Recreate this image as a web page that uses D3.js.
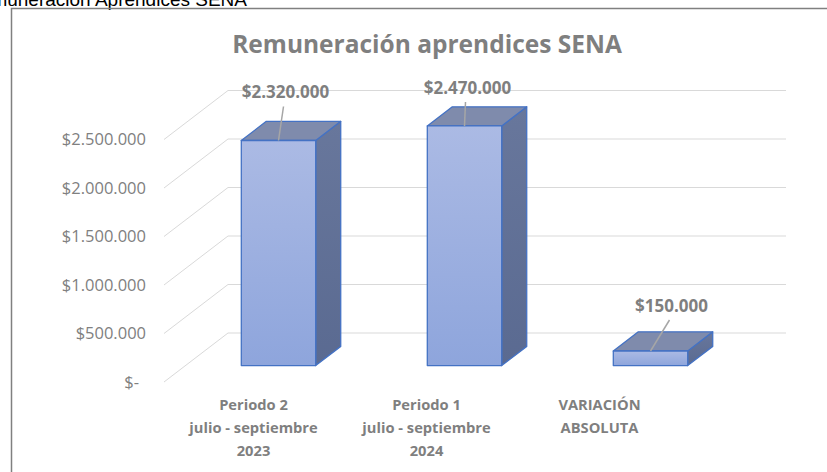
<!DOCTYPE html>
<html>
<head>
<meta charset="utf-8">
<script src="https://cdn.jsdelivr.net/npm/d3@7"></script>
<style>
  body { margin: 0; background: #fff; }
  text { font-family: "Open Sans", Lato, sans-serif; }
</style>
</head>
<body>
<div id="chart"></div>
<script>
// chart data
var categories = ["Periodo 2\njulio - septiembre\n2023", "Periodo 1\njulio - septiembre\n2024", "VARIACIÓN\nABSOLUTA"];
var values = [2320000, 2470000, 150000];
var tickValues = [0, 500000, 1000000, 1500000, 2000000, 2500000];
var title = "Remuneración aprendices SENA";
var pageTitle = "Remuneración Aprendices SENA";

// label nudges (manual placement like in the original workbook)
var labelNudge = [[7, -42], [3, -32], [21, -39]];

var W = 827, H = 472;

var svg = d3.select("#chart").append("svg")
    .attr("width", W)
    .attr("height", H);

var defs = svg.append("defs");
var gFront = defs.append("linearGradient").attr("id", "gFront")
    .attr("x1", 0).attr("y1", 0).attr("x2", 0).attr("y2", 1);
gFront.append("stop").attr("offset", "0%").attr("stop-color", "#abbae4");
gFront.append("stop").attr("offset", "100%").attr("stop-color", "#8ea5dc");
var gSide = defs.append("linearGradient").attr("id", "gSide")
    .attr("x1", 0).attr("y1", 0).attr("x2", 0).attr("y2", 1);
gSide.append("stop").attr("offset", "0%").attr("stop-color", "#68779c");
gSide.append("stop").attr("offset", "100%").attr("stop-color", "#5a6a91");

// page caption cut off at the top
svg.append("text")
    .attr("x", 247).attr("y", 6)
    .attr("text-anchor", "end")
    .style("font-family", "'Liberation Sans', Arial, sans-serif")
    .style("font-size", "19px")
    .attr("fill", "#000")
    .text(pageTitle);

// frame
svg.append("path")
    .attr("d", "M11.5," + H + "V8.5H" + W)
    .attr("fill", "none")
    .attr("stroke", "#808080")
    .attr("stroke-width", 1.5);

// title
svg.append("text")
    .attr("x", 427).attr("y", 53)
    .attr("text-anchor", "middle")
    .style("font-size", "24.5px")
    .style("font-weight", "bold")
    .attr("fill", "#7f7f7f")
    .text(title);

// back wall scales + oblique depth
var x = d3.scaleBand().domain(categories).range([228, 786]);
var y = d3.scaleLinear().domain([0, 2500000]).range([333, 90.5]);
var depthX = -64, depthY = 49;
var zFront = 0.664, zBack = 0.273;

function P(xv, v, z) {
    return [xv + depthX * z, y(v) + depthY * z];
}

// gridlines: back wall + left wall diagonal
var grid = svg.append("g").attr("stroke", "#d9d9d9").attr("stroke-width", 1).attr("fill", "none");
tickValues.forEach(function(t) {
    var a = P(x.range()[0], t, 1), b = P(x.range()[0], t, 0), c = P(x.range()[1], t, 0);
    grid.append("path").attr("d", "M" + a + "L" + b + "L" + c);
});

// y axis on the front plane
var fmtLocale = d3.formatLocale({decimal: ",", thousands: ".", grouping: [3], currency: ["$", ""]});
var fmt = fmtLocale.format("$,");
var yFront = y.copy().range([333 + depthY, 90.5 + depthY]);
var yAxis = d3.axisLeft(yFront)
    .tickValues(tickValues)
    .tickSize(0)
    .tickPadding(18)
    .tickFormat(function(d) { return d === 0 ? "$-" : fmt(d); });
var yg = svg.append("g")
    .attr("transform", "translate(" + (x.range()[0] + depthX) + ",0)")
    .call(yAxis);
yg.select(".domain").remove();
yg.selectAll("text")
    .style("font-family", "'Open Sans', sans-serif")
    .style("font-size", "16.5px")
    .attr("fill", "#808080");
yg.selectAll("text").filter(function(d) { return d === 0; }).attr("dx", "-7");

// bars
var bw = x.bandwidth() * 0.4;
var bars = svg.append("g").selectAll("g.bar")
    .data(categories.map(function(c, i) { return {cat: c, v: values[i], i: i}; }))
    .enter().append("g").attr("class", "bar");

function poly(pts) { return "M" + pts.join("L") + "Z"; }

bars.each(function(d) {
    var g = d3.select(this);
    var cx = x(d.cat) + x.bandwidth() / 2;
    var xl = cx - bw / 2, xr = cx + bw / 2;
    // side
    g.append("path")
        .attr("d", poly([P(xr, d.v, zFront), P(xr, d.v, zBack), P(xr, 0, zBack), P(xr, 0, zFront)]))
        .attr("fill", "url(#gSide)")
        .attr("stroke", "#4472c4").attr("stroke-width", 1.3).attr("stroke-linejoin", "round");
    // top
    g.append("path")
        .attr("d", poly([P(xl, d.v, zFront), P(xr, d.v, zFront), P(xr, d.v, zBack), P(xl, d.v, zBack)]))
        .attr("fill", "#7f8bac")
        .attr("stroke", "#4472c4").attr("stroke-width", 1.3).attr("stroke-linejoin", "round");
    // front
    g.append("path")
        .attr("d", poly([P(xl, d.v, zFront), P(xr, d.v, zFront), P(xr, 0, zFront), P(xl, 0, zFront)]))
        .attr("fill", "url(#gFront)")
        .attr("stroke", "#4472c4").attr("stroke-width", 1.3).attr("stroke-linejoin", "round");

    // data label with leader line
    var top = P(cx, d.v, zFront);
    var lx = top[0] + labelNudge[d.i][0], ly = top[1] + labelNudge[d.i][1];
    g.append("line")
        .attr("x1", lx - 2).attr("y1", ly + 8)
        .attr("x2", top[0]).attr("y2", top[1])
        .attr("stroke", "#a6a6a6").attr("stroke-width", 1.5);
    g.append("text")
        .attr("x", lx).attr("y", ly)
        .attr("text-anchor", "middle")
        .style("font-size", "17px")
        .style("font-weight", "bold")
        .attr("fill", "#7f7f7f")
        .text(fmt(d.v));
});

// category labels (front edge)
var xLab = d3.scaleBand().domain(categories).range([167, 686]);
var cl = svg.append("g").selectAll("text")
    .data(categories)
    .enter().append("text")
    .attr("text-anchor", "middle")
    .attr("x", function(d) { return xLab(d) + xLab.bandwidth() / 2; })
    .attr("y", 410)
    .style("font-size", "14.7px")
    .style("font-weight", "bold")
    .attr("fill", "#7f7f7f");
cl.each(function(d) {
    var t = d3.select(this);
    d.split("\n").forEach(function(line, k) {
        t.append("tspan")
            .attr("x", xLab(d) + xLab.bandwidth() / 2)
            .attr("dy", k === 0 ? 0 : 23)
            .text(line);
    });
});
</script>
</body>
</html>
